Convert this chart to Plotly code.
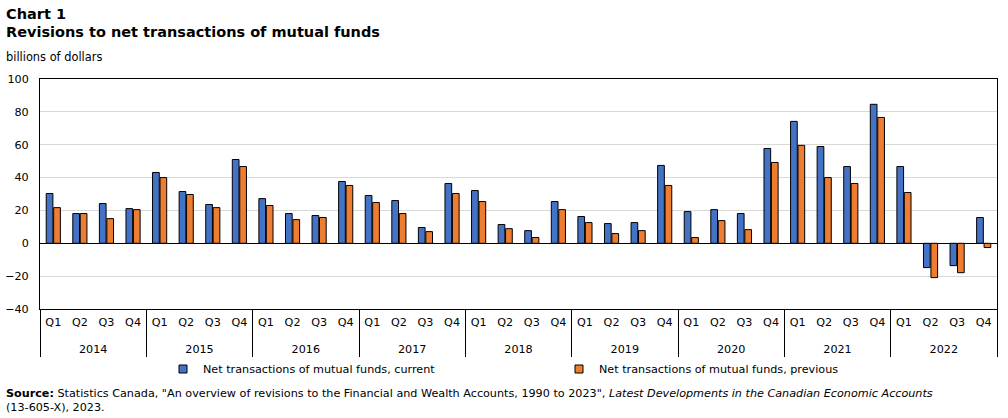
import plotly.graph_objects as go

years = ["2014", "2015", "2016", "2017", "2018", "2019", "2020", "2021", "2022"]
quarters = ["Q1", "Q2", "Q3", "Q4"]
current = [30.3, 18.1, 24.2, 21.1,
           43.1, 31.5, 23.6, 51.0,
           27.2, 18.1, 16.9, 37.6,
           29.1, 26.0, 9.6, 36.4,
           32.1, 11.4, 7.7, 25.4,
           16.3, 12.0, 12.6, 47.4,
           19.3, 20.5, 18.1, 57.7,
           74.2, 58.9, 46.7, 84.6,
           46.7, -14.8, -13.6, 15.7]
previous = [21.7, 18.1, 15.0, 20.5,
            40.0, 29.7, 21.7, 46.7,
            23.0, 14.4, 15.7, 35.2,
            24.8, 18.1, 7.1, 30.3,
            25.4, 8.9, 3.5, 20.5,
            12.6, 5.9, 7.7, 35.2,
            3.5, 13.8, 8.3, 49.2,
            59.6, 40.0, 36.4, 76.6,
            30.9, -20.9, -17.9, -2.6]
names = ["Net transactions of mutual funds, current",
         "Net transactions of mutual funds, previous"]
colors = ["#4472C4", "#ED7D31"]

# quarter labels get an empty second line so the year row sits lower
xs = [[y for y in years for q in quarters], [q + "<br> " for y in years for q in quarters]]

FONT = "DejaVu Sans"
fig = go.Figure()
for vals, name, col in zip([current, previous], names, colors):
    fig.add_trace(go.Bar(x=xs, y=vals, name=name, showlegend=False,
                         marker=dict(color=col, line=dict(color="black", width=1))))
# legend entries (small bordered squares)
for name, col in zip(names, colors):
    fig.add_trace(go.Scatter(x=[None], y=[None], mode="markers", name=name,
                             marker=dict(symbol="square", size=8, color=col,
                                         line=dict(color="black", width=1))))

def px_x(p):
    return (p - 40) / 957.0

def px_y(p):
    return (309 - p) / 230.0

fig.update_layout(
    width=1008, height=418,
    margin=dict(l=40, r=11, t=79, b=109, autoexpand=False),
    paper_bgcolor="white", plot_bgcolor="white",
    font=dict(family=FONT, size=11, color="black"),
    barmode="group", bargap=0.44, bargroupgap=0.1,
    showlegend=True,
    legend=dict(orientation="h", x=px_x(163), xanchor="left", y=px_y(369), yanchor="middle",
                entrywidth=351, entrywidthmode="pixels", font=dict(size=11.2),
                itemwidth=30, bgcolor="rgba(0,0,0,0)"),
    xaxis=dict(type="multicategory", showline=True, linecolor="black", mirror=True,
               showdividers=True, dividercolor="black", dividerwidth=1, automargin=False,
               tickfont=dict(size=11.2), ticks="", ticklabelstandoff=3),
    yaxis=dict(range=[-40, 100], dtick=20, showgrid=True, gridcolor="#D9D9D9",
               zeroline=True, zerolinecolor="black", zerolinewidth=1, automargin=False,
               showline=True, linecolor="black", mirror=True, ticks="",
               tickfont=dict(size=11.2), ticklabelstandoff=8),
)

notes = [
    ("<b>Chart 1</b>", 14, 14.5),
    ("<b>Revisions to net transactions of mutual funds</b>", 32, 14.5),
    ("billions of dollars", 57, 11.4),
    ("<b>Source:</b> Statistics Canada, \"An overview of revisions to the Financial and Wealth Accounts, 1990 to 2023\", <i>Latest Developments in the Canadian Economic Accounts</i>", 393, 11.2),
    ("(13-605-X), 2023.", 407, 11.2),
]
for text, yp, size in notes:
    fig.add_annotation(text=text, x=px_x(4), y=px_y(yp), xref="paper", yref="paper",
                       showarrow=False, xanchor="left", yanchor="middle", font=dict(size=size))

fig.write_html("out.html")
